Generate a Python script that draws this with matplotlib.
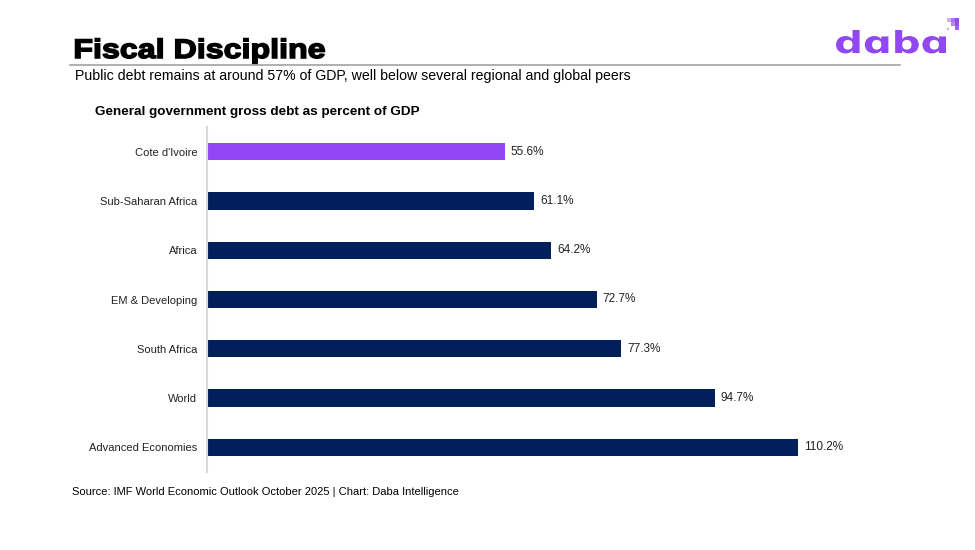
import matplotlib
matplotlib.use("Agg")
import matplotlib.pyplot as plt
from matplotlib.patches import Rectangle, PathPatch
from matplotlib.textpath import TextPath
from matplotlib.font_manager import FontProperties

plt.rcParams["font.family"] = ["Liberation Sans", "DejaVu Sans"]

# data
categories = ["Cote d'Ivoire", "Sub-Saharan Africa", "Africa", "EM & Developing",
              "South Africa", "World", "Advanced Economies"]
debt_pct = [55.6, 61.1, 64.2, 72.7, 77.3, 94.7, 110.2]

PURPLE = "#9445F5"
LOGO = "#9148F0"
NAVY = "#001F5B"

W, H = 975, 550
fig = plt.figure(figsize=(W / 100, H / 100), dpi=100)


def px_axes(x0, y0, x1, y1):
    # axes from pixel box (top-down y)
    return fig.add_axes([x0 / W, 1 - y1 / H, (x1 - x0) / W, (y1 - y0) / H])


def boxed_text(s, prop, box, color, top_ref, lw=0.0):
    # draw s as a path, stretched so its left/right edges and top_ref-height/baseline fit box
    tp = TextPath((0, 0), s, size=1, prop=prop)
    ext = tp.get_extents()
    ytop = TextPath((0, 0), top_ref, size=1, prop=prop).get_extents().y1
    a = px_axes(*box)
    a.add_patch(PathPatch(tp, facecolor=color, edgecolor=color, lw=lw, clip_on=False))
    a.set_xlim(ext.x0, ext.x1)
    a.set_ylim(0, ytop)
    a.axis("off")
    return a


# bar axes
left, right, top, bottom = 207, 900, 127, 472
ax = px_axes(left, top, right, bottom)

colors = [PURPLE] + [NAVY] * (len(categories) - 1)
ypos = list(range(len(categories)))
ax.barh(ypos, debt_pct, height=0.35, color=colors)
for y, v in zip(ypos, debt_pct):
    ax.text(v + 1.1, y, f"{v:.1f}%", va="center", ha="left", fontsize=8.5, color="#222222")

ax.set_xlim(0, (right - left) / 5.36)
ax.set_ylim(6.5, -0.5)
ax.set_yticks(ypos)
ax.set_yticklabels(categories, fontsize=8, color="#222222")
ax.tick_params(axis="y", length=0, pad=7)
ax.set_xticks([])
for s in ("top", "right", "bottom"):
    ax.spines[s].set_visible(False)
ax.spines["left"].set_color("#d9d9d9")
ax.spines["left"].set_linewidth(1.5)

# header: heavy title
boxed_text("Fiscal Discipline", FontProperties(family="Liberation Sans", weight="bold"),
           (75.5, 39.5, 324.5, 58), "black", "F", lw=1.1)
fig.add_artist(plt.Line2D([70 / W, 900 / W], [1 - 64.5 / H, 1 - 64.5 / H],
                          color="#9a9a9a", lw=1.1))
fig.text(75 / W, 1 - 76 / H, "Public debt remains at around 57% of GDP, well below several regional and global peers",
         fontsize=10.2, color="black", ha="left", va="center")
fig.text(95 / W, 1 - 112 / H, "General government gross debt as percent of GDP",
         fontsize=9.7, fontweight="bold", color="black", ha="left", va="center")

# source
fig.text(72 / W, 1 - 492 / H, "Source: IMF World Economic Outlook October 2025 | Chart: Daba Intelligence",
         fontsize=8, color="black", ha="left", va="center")

# logo: "daba" with single-storey a, stretched into its box
boxed_text("d\u0251b\u0251", FontProperties(family="DejaVu Sans", weight="bold"),
           (836, 30, 946, 53), LOGO, "d")
# pixel corner mark
for (px, py, sz, a) in [(947, 18, 4, 0.45), (951, 18, 4, 0.75), (955, 18, 4, 1.0),
                        (951, 22, 4, 0.65), (955, 22, 4, 0.95), (955, 26, 4, 0.85),
                        (947, 28, 2, 0.45)]:
    fig.add_artist(Rectangle((px / W, 1 - (py + sz) / H), sz / W, sz / H,
                             transform=fig.transFigure, color=LOGO, alpha=a, lw=0))

fig.savefig("out.png", dpi=100)
